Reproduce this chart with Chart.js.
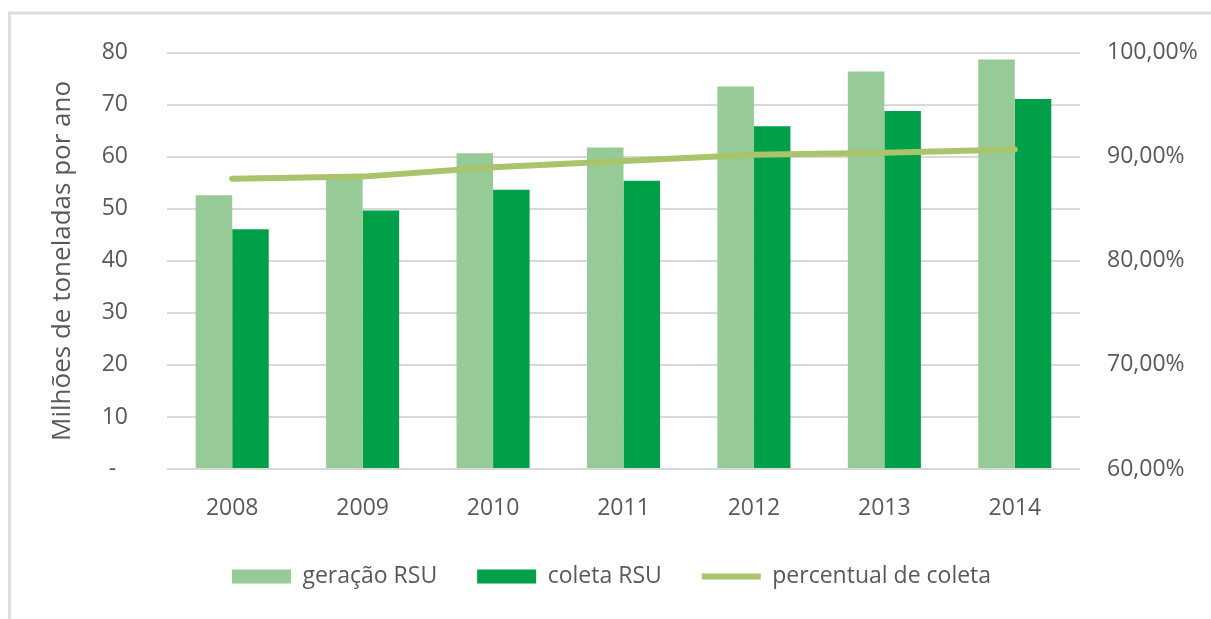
<!DOCTYPE html>
<html>
<head>
<meta charset="utf-8">
<script src="https://cdn.jsdelivr.net/npm/chart.js@4"></script>
<style>
  html, body { margin: 0; padding: 0; background: #ffffff; }
  #wrap { width: 1211px; height: 619px; position: relative; }
</style>
</head>
<body>
<div id="wrap"><canvas id="chart"></canvas></div>
<script>
const years = ['2008', '2009', '2010', '2011', '2012', '2013', '2014'];
// milhoes de toneladas por ano
const geracao = [52.6, 56.6, 60.7, 61.8, 73.5, 76.4, 78.7];
const coleta = [46.1, 49.7, 53.7, 55.4, 65.9, 68.8, 71.1];
// percentual de coleta (%)
const percentual = [87.9, 88.1, 89.0, 89.6, 90.2, 90.4, 90.7];

const textColor = '#595959';
const gridColor = '#d9d9d9';

// light gray frame around the whole chart, like the Excel chart border
const framePlugin = {
    id: 'frame',
    beforeDraw(chart) {
        const ctx = chart.ctx;
        ctx.save();
        ctx.strokeStyle = '#dedede';
        ctx.lineWidth = 3;
        ctx.strokeRect(9.5, 13, 1400, 800);
        ctx.restore();
    }
};

const ctx = document.getElementById('chart');

new Chart(ctx, {
    data: {
        labels: years,
        datasets: [
            {
                type: 'line',
                label: 'percentual de coleta',
                data: percentual,
                yAxisID: 'y1',
                borderColor: '#a9c46b',
                backgroundColor: '#a9c46b',
                borderWidth: 6,
                borderCapStyle: 'round',
                tension: 0,
                pointRadius: 0,
                pointStyle: 'line',
                order: 0
            },
            {
                type: 'bar',
                label: 'geração RSU',
                data: geracao,
                yAxisID: 'y',
                backgroundColor: '#96ca96',
                borderWidth: 0,
                pointStyle: 'rect',
                categoryPercentage: 0.56,
                barPercentage: 1.0,
                order: 1
            },
            {
                type: 'bar',
                label: 'coleta RSU',
                data: coleta,
                yAxisID: 'y',
                backgroundColor: '#00a048',
                borderWidth: 0,
                pointStyle: 'rect',
                categoryPercentage: 0.56,
                barPercentage: 1.0,
                order: 1
            }
        ]
    },
    options: {
        responsive: true,
        maintainAspectRatio: false,
        animation: false,
        layout: {
            padding: { left: 12, right: 0, top: 37, bottom: 21 }
        },
        plugins: {
            legend: {
                position: 'bottom',
                labels: {
                    color: textColor,
                    font: { family: 'Open Sans', size: 23 },
                    usePointStyle: true,
                    pointStyleWidth: 59,
                    boxHeight: 14,
                    padding: 40,
                    sort: (a, b) => {
                        const rank = { 'geração RSU': 0, 'coleta RSU': 1, 'percentual de coleta': 2 };
                        return rank[a.text] - rank[b.text];
                    }
                }
            },
            tooltip: { enabled: false }
        },
        scales: {
            x: {
                grid: { display: false, drawTicks: false },
                border: { display: false },
                ticks: {
                    color: textColor,
                    font: { family: 'Open Sans', size: 23 },
                    padding: 26
                },
                afterFit(scale) { scale.height = 56; }
            },
            y: {
                position: 'left',
                min: 0,
                max: 80,
                ticks: {
                    stepSize: 10,
                    color: textColor,
                    font: { family: 'Open Sans', size: 23 },
                    padding: 39,
                    callback: (v) => v === 0 ? '-  ' : String(v)
                },
                grid: { color: gridColor, lineWidth: 2, drawTicks: false },
                border: { display: false },
                title: {
                    display: true,
                    text: 'Milhões de toneladas por ano',
                    color: textColor,
                    font: { family: 'Open Sans', size: 26 },
                    padding: { top: 35, bottom: 0 }
                },
                afterFit(scale) { scale.width = 155; }
            },
            y1: {
                position: 'right',
                min: 60,
                max: 100,
                ticks: {
                    stepSize: 10,
                    color: textColor,
                    font: { family: 'Open Sans', size: 23 },
                    padding: 27,
                    callback: (v) => v.toFixed(2).replace('.', ',') + '%'
                },
                grid: { display: false, drawTicks: false },
                border: { display: false },
                afterFit(scale) { scale.width = 131; }
            }
        }
    },
    plugins: [framePlugin]
});
</script>
</body>
</html>
